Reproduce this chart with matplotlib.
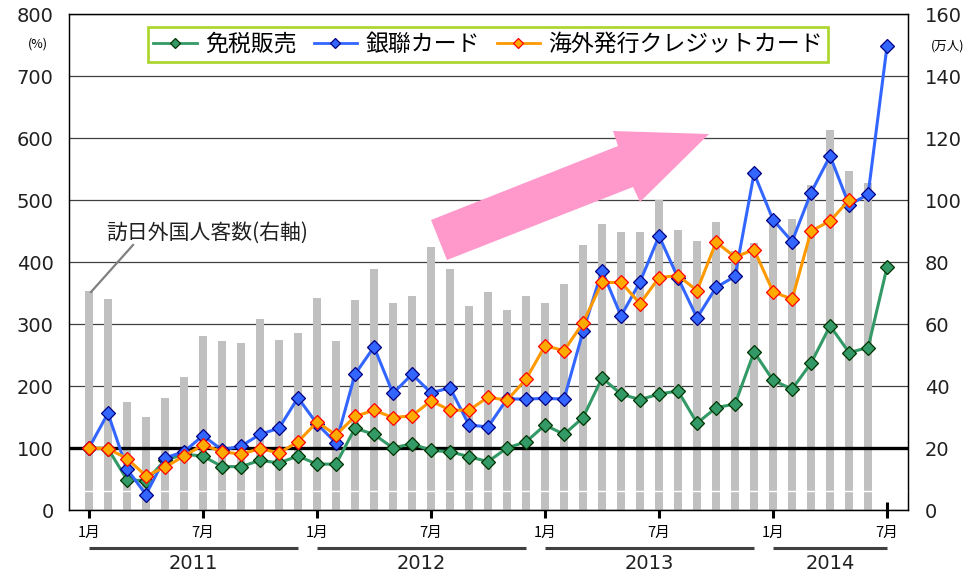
import numpy as np
import matplotlib
matplotlib.use("Agg")
import matplotlib.pyplot as plt
import matplotlib.transforms as mtransforms
from matplotlib.patches import Polygon
from matplotlib.lines import Line2D

plt.rcParams["font.family"] = ["Noto Sans CJK JP", "DejaVu Sans"]
NUM_FONT = ["DejaVu Sans"]

# ── data (Jan 2011 .. Jul 2014) ──
visitors = [70.6, 68.1, 34.9, 30.0, 36.1, 42.9, 56.2, 54.5, 53.9, 61.7, 54.9, 57.1,
            68.5, 54.5, 67.7, 77.7, 66.8, 69.0, 84.8, 77.7, 65.8, 70.3, 64.5, 69.0,
            66.8, 72.9, 85.5, 92.3, 89.7, 89.7, 100.0, 90.3, 86.8, 92.9, 83.5, 86.1,
            93.5, 93.8, 104.8, 122.6, 109.4, 105.4]
tax_free = [100, 99, 49, 47, 80, 90, 87, 70, 70, 80, 76, 87,
            74, 74, 132, 122, 100, 107, 96, 94, 86, 78, 100, 110,
            137, 122, 149, 213, 187, 178, 187, 192, 140, 165, 171, 255,
            209, 195, 237, 297, 254, 262, 392]
unionpay = [100, 156, 66, 25, 84, 94, 120, 97, 103, 122, 132, 181,
            139, 108, 219, 263, 188, 219, 189, 197, 137, 134, 179, 179,
            180, 179, 288, 386, 313, 368, 442, 374, 310, 359, 377, 543,
            468, 433, 512, 571, 492, 509, 749]
credit = [100, 99, 83, 55, 69, 87, 105, 94, 90, 99, 92, 110,
          142, 121, 151, 161, 149, 152, 176, 161, 161, 182, 177, 211,
          265, 257, 302, 367, 367, 333, 375, 378, 354, 432, 408, 420,
          352, 340, 450, 466, 500]
years = ["2011", "2012", "2013", "2014"]
months_per_year = [12, 12, 12, 7]
month_labels = ["1月", "7月"] * 4

W, H = 969, 574


def px(x, y):
    """pixel position (top-left origin) -> figure fraction"""
    return x / W, 1 - y / H


fig = plt.figure(figsize=(W / 100, H / 100), dpi=100)
ax = fig.add_axes([69 / W, 1 - 510 / H, 839 / W, 496 / H])

n_total = sum(months_per_year)
m_all = np.arange(n_total)

# ── bars: visitors (right axis) ──
ax.bar(m_all[:len(visitors)], visitors, width=0.45, color="#c0c0c0", zorder=2)
ax.axhline(6, color="white", lw=1.0, zorder=3)
ax.set_ylim(0, 160)
ax.set_yticks(range(0, 161, 20))
ax.set_axisbelow(True)
ax.yaxis.grid(True, color="#404040", lw=0.9)
ax.set_xlim(-1.05, n_total + 0.1)

# ── lines: % (left axis) ──
ax2 = ax.twinx()
ax.yaxis.tick_right()
ax2.yaxis.tick_left()
ax2.set_ylim(0, 800)
ax2.set_yticks(range(0, 801, 100))
ax2.axhline(100, color="black", lw=2.4, zorder=2)

ax2.plot(m_all[:len(tax_free)], tax_free, color="#339966", lw=2.2, marker="D",
         ms=7, mfc="#339966", mec="#003300", mew=0.9, label="免税販売", zorder=3)
ax2.plot(m_all[:len(unionpay)], unionpay, color="#3366ff", lw=2.2, marker="D",
         ms=7, mfc="#3366ff", mec="#000080", mew=0.9, label="銀聯カード", zorder=4)
ax2.plot(m_all[:len(credit)], credit, color="#ff9900", lw=2.2, marker="D",
         ms=7, mfc="#ffaa00", mec="#ff0000", mew=0.9,
         label="海外発行クレジットカード", zorder=5)

for a in (ax, ax2):
    for s in a.spines.values():
        s.set_color("black")
        s.set_linewidth(0.9)
ax.tick_params(axis="y", length=0, labelsize=14, pad=12, colors="#202020")
ax2.tick_params(axis="y", length=0, labelsize=14, pad=11, colors="#202020")
for lab in ax.get_yticklabels() + ax2.get_yticklabels():
    lab.set_family(NUM_FONT)

# x ticks
ax.set_xticks(m_all[::6])
ax.set_xticklabels(month_labels, fontsize=10.5)
ax.set_xticks(m_all, minor=True)
ax.tick_params(axis="x", which="major", direction="inout", length=11.5,
               width=2.2, pad=6, colors="black")
ax.tick_params(axis="x", which="minor", direction="in", length=3, width=0.8)

# year brackets
blend = mtransforms.blended_transform_factory(ax.transData, ax.transAxes)
start = 0
for yr, n in zip(years, months_per_year):
    end = start + n - 1
    ax.plot([start, end], [-0.0766, -0.0766], transform=blend, color="#404040",
            lw=2.2, solid_capstyle="butt", clip_on=False)
    ax.text((start + end) / 2, -0.107, yr, transform=blend, ha="center",
            va="center", fontsize=14, color="#202020", family=NUM_FONT)
    start += n

# unit labels
fig.text(*px(38, 44), "(%)", ha="center", va="center", fontsize=9)
fig.text(*px(948, 46), "(万人)", ha="center", va="center", fontsize=9)

# legend
leg = ax2.legend(loc="center", bbox_to_anchor=(0.4994, 0.9385), ncol=3,
                 fontsize=16.5, frameon=True, fancybox=False, markerscale=0.75,
                 handlelength=1.9, handletextpad=0.35, columnspacing=0.75,
                 borderpad=0.25, borderaxespad=0)
leg.get_frame().set_edgecolor("#99cc00")
leg.get_frame().set_linewidth(2)
for h in leg.get_lines():
    h.set_linewidth(2)

# annotation for bars
fig.text(*px(207, 233), "訪日外国人客数(右軸)", ha="center", va="center",
         fontsize=15, color="#202020")
fig.add_artist(Line2D([px(133, 245)[0], px(91, 292)[0]],
                      [px(133, 245)[1], px(91, 292)[1]],
                      color="#808080", lw=1.6, transform=fig.transFigure))

# pink trend arrow
arrow_px = [(431, 220), (447, 260), (633, 187), (640, 202),
            (709, 134), (613, 131), (618, 146)]
fig.add_artist(Polygon([px(x, y) for x, y in arrow_px], closed=True,
                       facecolor="#ff99cc", edgecolor="none",
                       transform=fig.transFigure, zorder=5))

fig.savefig("out.png", dpi=100)
